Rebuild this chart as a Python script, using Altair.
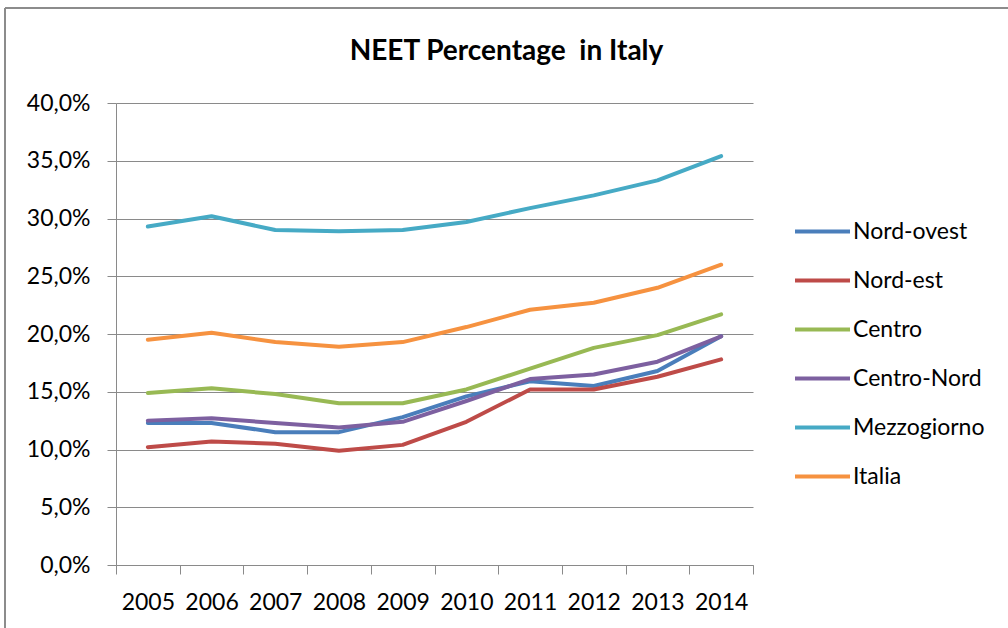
import altair as alt
import pandas as pd

years = ["2005", "2006", "2007", "2008", "2009", "2010", "2011", "2012", "2013", "2014"]
series_names = ["Nord-ovest", "Nord-est", "Centro", "Centro-Nord", "Mezzogiorno", "Italia"]
nord_ovest = [12.3, 12.3, 11.5, 11.5, 12.8, 14.6, 15.9, 15.5, 16.8, 19.8]
nord_est = [10.2, 10.7, 10.5, 9.9, 10.4, 12.4, 15.2, 15.2, 16.3, 17.8]
centro = [14.9, 15.3, 14.8, 14.0, 14.0, 15.2, 17.0, 18.8, 19.9, 21.7]
centro_nord = [12.5, 12.7, 12.3, 11.9, 12.4, 14.2, 16.1, 16.5, 17.6, 19.8]
mezzogiorno = [29.3, 30.2, 29.0, 28.9, 29.0, 29.7, 30.9, 32.0, 33.3, 35.4]
italia = [19.5, 20.1, 19.3, 18.9, 19.3, 20.6, 22.1, 22.7, 24.0, 26.0]
colors = ["#4A7EBB", "#BE4B48", "#98B954", "#7D60A0", "#46AAC5", "#F69240"]
y_ticks = [0, 0.05, 0.10, 0.15, 0.20, 0.25, 0.30, 0.35, 0.40]

all_series = [nord_ovest, nord_est, centro, centro_nord, mezzogiorno, italia]
rows = []
for name, vals in zip(series_names, all_series):
    for yr, v in zip(years, vals):
        rows.append({"Anno": yr, "Serie": name, "Valore": v / 100.0})
df = pd.DataFrame(rows)

FONT = "Lato"
GRID = "#8A8A8A"
FS = 23

lines = alt.Chart(df).mark_line(strokeWidth=4, strokeCap="round", strokeJoin="round").encode(
    x=alt.X(
        "Anno:O",
        bandPosition=0.5,
        scale=alt.Scale(type="band", paddingInner=0, paddingOuter=0),
        axis=alt.Axis(
            title=None, labelAngle=0, tickBand="extent", grid=False,
            domainColor=GRID, tickColor=GRID, tickSize=9, domainWidth=1,
            labelFont=FONT, labelFontSize=FS, labelColor="#000000", labelPadding=17,
        ),
    ),
    y=alt.Y(
        "Valore:Q",
        scale=alt.Scale(domain=[0, 0.40], nice=False),
        axis=alt.Axis(
            title=None, values=y_ticks,
            labelExpr="replace(format(datum.value, '.1%'), '.', ',')",
            grid=True, gridColor=GRID, gridWidth=1,
            domainColor=GRID, tickColor=GRID, tickSize=9,
            labelFont=FONT, labelFontSize=FS, labelColor="#000000", labelPadding=17,
        ),
    ),
    color=alt.Color(
        "Serie:N",
        scale=alt.Scale(domain=series_names, range=colors),
        legend=alt.Legend(
            title=None, orient="none", legendX=677, legendY=99,
            symbolType="stroke", symbolSize=3025, symbolStrokeWidth=4,
            labelFont=FONT, labelFontSize=FS, labelColor="#000000",
            rowPadding=7, labelOffset=1, labelLimit=300,
        ),
    ),
)

frame_left = alt.Chart(df).mark_rule(color="#8C8C8C", strokeWidth=2).encode(
    x=alt.value(-111), y=alt.value(-95), y2=alt.value(530)
)
frame_top = alt.Chart(df).mark_rule(color="#8C8C8C", strokeWidth=2).encode(
    x=alt.value(-111), x2=alt.value(900), y=alt.value(-95)
)

chart = alt.layer(frame_left, frame_top, lines).properties(
    width=637,
    height=462,
    title=alt.TitleParams(
        "NEET Percentage\u00a0 in Italy", font=FONT, fontSize=28, fontWeight="bold",
        color="#000000", anchor="middle", dx=72, offset=0, dy=59,
    ),
    autosize=alt.AutoSizeParams(type="none"),
    padding={"left": 116, "top": 103, "right": 255, "bottom": 63},
).configure_view(stroke=None)

chart.save("out.html", embed_options={"renderer": "svg", "actions": False})
